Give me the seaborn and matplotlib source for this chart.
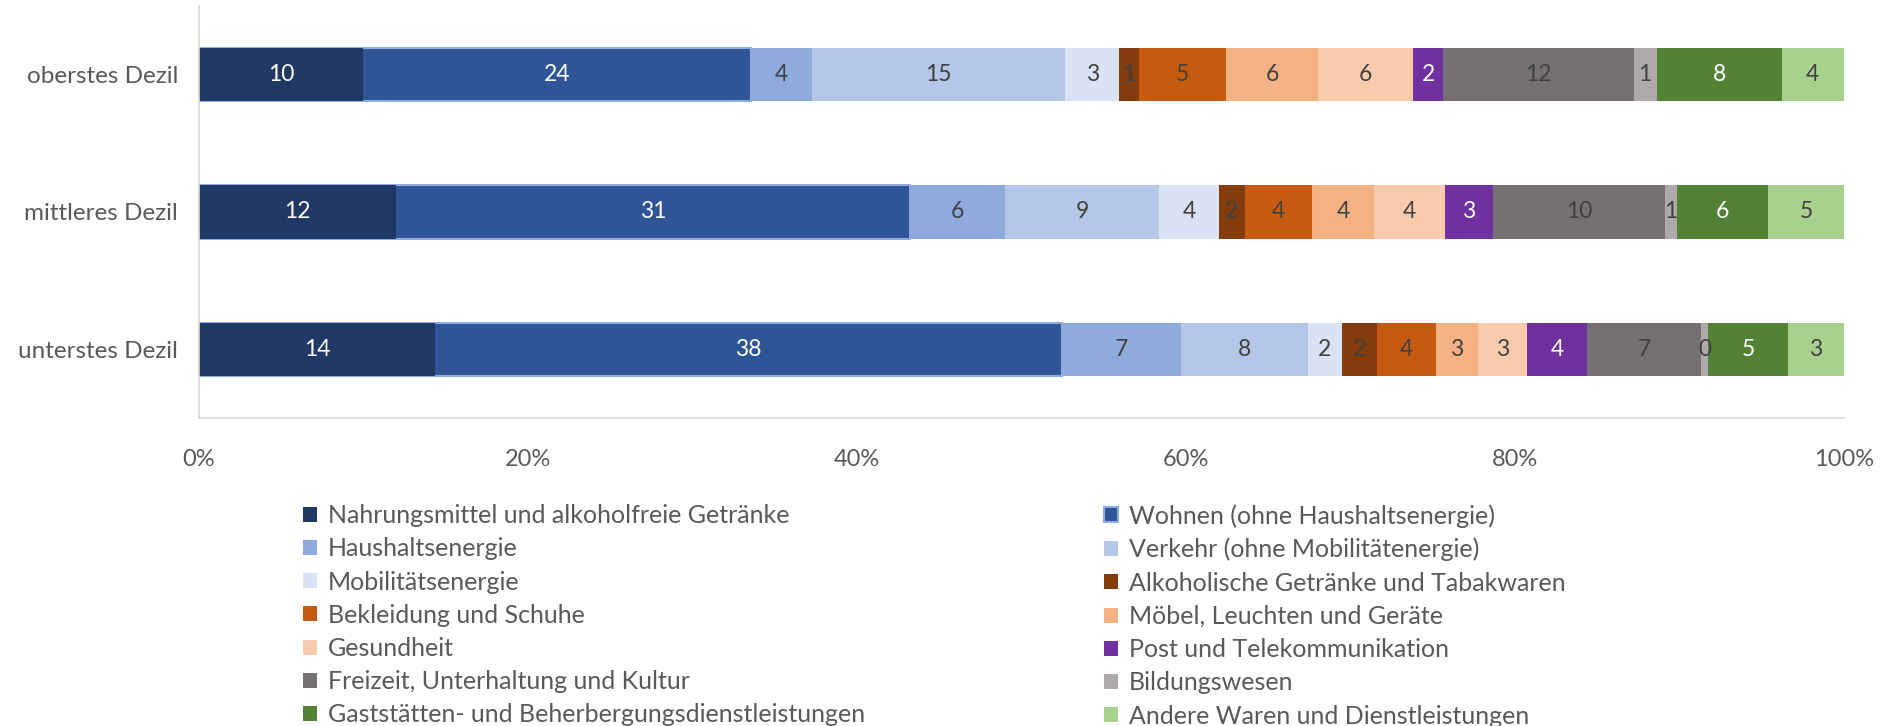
import numpy as np
import pandas as pd
import seaborn as sns
import matplotlib.pyplot as plt
from matplotlib.patches import Patch

# Kategorien (Dezile) und Ausgabenanteile in %
dezile = ['oberstes Dezil', 'mittleres Dezil', 'unterstes Dezil']
bereiche = ['Nahrungsmittel und alkoholfreie Getränke', 'Wohnen (ohne Haushaltsenergie)',
            'Haushaltsenergie', 'Verkehr (ohne Mobilitätenergie)',
            'Mobilitätsenergie', 'Alkoholische Getränke und Tabakwaren',
            'Bekleidung und Schuhe', 'Möbel, Leuchten und Geräte',
            'Gesundheit', 'Post und Telekommunikation',
            'Freizeit, Unterhaltung und Kultur', 'Bildungswesen',
            'Gaststätten- und Beherbergungsdienstleistungen', 'Andere Waren und Dienstleistungen']
oberstes = [10.0, 23.6, 3.7, 15.4, 3.3, 1.2, 5.3, 5.6, 5.8, 1.8, 11.6, 1.4, 7.6, 3.8]
mittleres = [12.0, 31.3, 5.8, 9.4, 3.6, 1.6, 4.1, 3.8, 4.3, 2.9, 10.5, 0.7, 5.6, 4.6]
unterstes = [14.4, 38.2, 7.3, 7.7, 2.1, 2.1, 3.6, 2.6, 3.0, 3.6, 7.0, 0.4, 4.9, 3.4]
farben = ['#1F3864', '#2F5597', '#8FAADC', '#B4C7E7', '#DAE3F3', '#843C0C', '#C55A11',
          '#F4B183', '#F8CBAD', '#7030A0', '#767171', '#AEAAAA', '#548235', '#A9D18E']
weiss_text = ['#1F3864', '#2F5597', '#7030A0', '#548235']

df = pd.DataFrame([oberstes, mittleres, unterstes], index=dezile, columns=bereiche)
df = df.div(df.sum(axis=1), axis=0) * 100
kum = df.cumsum(axis=1)

sns.set_theme(style='white')
plt.rcParams['font.family'] = ['Lato', 'DejaVu Sans']

fig = plt.figure(figsize=(18.82, 7.26), dpi=100)
ax = fig.add_axes([199 / 1882, 1 - 418 / 726, 1645 / 1882, 412 / 726])

# gestapelt: von der größten Summe rückwärts übereinander zeichnen
for i in range(len(bereiche) - 1, -1, -1):
    sp = bereiche[i]
    d = pd.DataFrame({'dezil': dezile, 'wert': kum[sp].values})
    ec = '#8FAADC' if i == 1 else 'none'
    sns.barplot(data=d, y='dezil', x='wert', color=farben[i], orient='h', width=0.39,
                edgecolor=ec, linewidth=1.5 if i == 1 else 0, saturation=1, ax=ax)

# Datenbeschriftungen
for j, dz in enumerate(dezile):
    for i, sp in enumerate(bereiche):
        v = df.loc[dz, sp]
        mitte = kum.loc[dz, sp] - v / 2
        fc = 'white' if farben[i] in weiss_text else '#404040'
        ax.text(mitte, j, f'{v:.0f}', ha='center', va='center', fontsize=16.5, color=fc)

ax.set_xlim(0, 100)
ax.set_ylim(2.5, -0.5)
ax.set_xticks(np.arange(0, 101, 20))
ax.set_xticklabels([f'{t}%' for t in range(0, 101, 20)])
ax.set_xlabel('')
ax.set_ylabel('')
for s in ['top', 'right']:
    ax.spines[s].set_visible(False)
ax.spines['bottom'].set_color('#D9D9D9')
ax.spines['left'].set_color('#D9D9D9')
ax.spines['bottom'].set_linewidth(1.2)
ax.spines['left'].set_linewidth(1.2)
ax.tick_params(axis='x', direction='in', length=10, color='#D9D9D9', width=1,
               labelsize=17, labelcolor='#595959', pad=22)
ax.tick_params(axis='y', length=0, labelsize=17.5, labelcolor='#595959', pad=15)

# Legende zeilenweise in zwei Spalten
handles = []
for i in range(len(bereiche)):
    ec = '#8FAADC' if i == 1 else farben[i]
    handles.append(Patch(facecolor=farben[i], edgecolor=ec, linewidth=1.5 if i == 1 else 0,
                         label=bereiche[i]))
for start, x0 in [(0, 303), (1, 1104)]:
    idx = list(range(start, 14, 2))
    leg = fig.legend([handles[k] for k in idx], [bereiche[k] for k in idx], ncol=1,
                     loc='upper left', bbox_to_anchor=(x0 / 1882, 1 - 504 / 726), frameon=False,
                     fontsize=18, handlelength=0.55, handleheight=0.55, handletextpad=0.45,
                     labelspacing=0.41, borderaxespad=0, borderpad=0)
    for t in leg.get_texts():
        t.set_color('#595959')

fig.savefig('out.png', dpi=100)
